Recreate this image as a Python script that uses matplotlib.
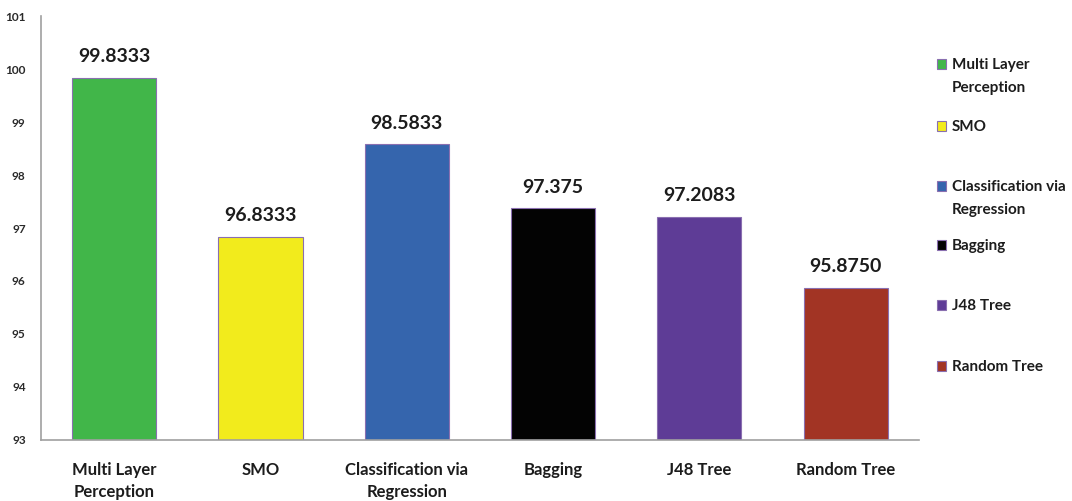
import matplotlib.pyplot as plt
from matplotlib.patches import Rectangle

# data
categories = ['Multi Layer\nPerception', 'SMO', 'Classification via\nRegression',
              'Bagging', 'J48 Tree', 'Random Tree']
accuracy = [99.8333, 96.8333, 98.5833, 97.375, 97.2083, 95.8750]
value_labels = ['99.8333', '96.8333', '98.5833', '97.375', '97.2083', '95.8750']
colors = ['#41b649', '#f2eb1c', '#3565ad', '#030303', '#5e3c96', '#a23424']
y_ticks = [93, 94, 95, 96, 97, 98, 99, 100, 101]

plt.rcParams['font.family'] = ['Lato', 'DejaVu Sans']
text_color = '#1c1c1c'

fig = plt.figure(figsize=(10.72, 5.01), dpi=100)
ax = fig.add_axes([0.0382, 0.1218, 0.8190, 0.8462])

x = range(len(categories))
bars = ax.bar(x, [v - 93 for v in accuracy], bottom=93, width=0.575,
              color=colors, edgecolor='#8a6fb0', linewidth=0.8)
ax.bar_label(bars, labels=value_labels, padding=9, fontsize=14,
             fontweight='bold', color=text_color)

ax.set_xlim(-0.5, len(categories) - 0.5)
ax.set_ylim(93, 101)
ax.set_yticks(y_ticks)
ax.set_yticklabels([str(t) for t in y_ticks], fontsize=8.5, fontweight='bold',
                   color='#2a2a2a')
ax.set_xticks(list(x))
ax.set_xticklabels(categories, fontsize=12, fontweight='bold', color=text_color,
                   linespacing=1.45)
ax.tick_params(axis='both', length=0)
ax.tick_params(axis='x', pad=16)
ax.tick_params(axis='y', pad=11)

for side in ['top', 'right']:
    ax.spines[side].set_visible(False)
for side in ['left', 'bottom']:
    ax.spines[side].set_color('#a0a0a0')
    ax.spines[side].set_linewidth(1.2)

# legend drawn by hand so markers sit on the first line of each entry
W, H = 1072, 501
legend_y = [64, 126, 186, 245, 305, 366]
for name, col, ly in zip(categories, colors, legend_y):
    fig.patches.append(Rectangle((937 / W, 1 - (ly + 5) / H), 9 / W, 10 / H,
                                 transform=fig.transFigure, facecolor=col,
                                 edgecolor='#8a6fb0', linewidth=0.8))
    fig.text(952 / W, 1 - (ly - 6) / H, name, fontsize=11, fontweight='bold',
             color=text_color, va='top', ha='left', linespacing=1.85)

fig.savefig('out.png', dpi=100)
